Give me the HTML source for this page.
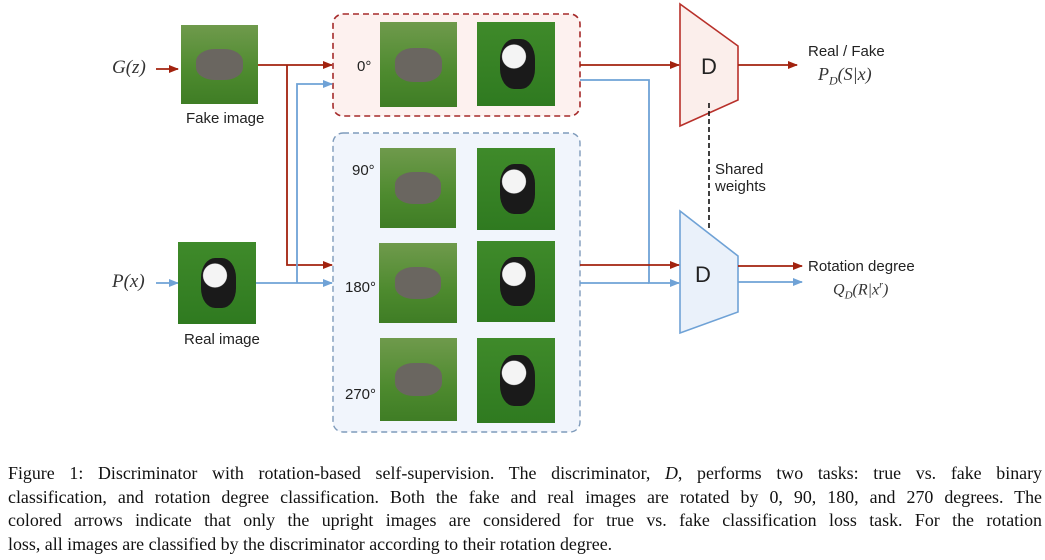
<!DOCTYPE html>
<html><head><style>
body{margin:0;width:1045px;height:560px;background:#fff;position:relative;overflow:hidden;font-family:"Liberation Sans",sans-serif}
.im{position:absolute;background:linear-gradient(180deg,#6f9a4c,#4d8a2e 60%,#3f7d25)}
.im.r{background:linear-gradient(180deg,#3f8a2a,#2f7a20)}
.im::after{content:"";position:absolute;left:20%;top:30%;width:60%;height:40%;border-radius:40%;background:#6a6660}
.im.r::after{left:30%;top:20%;width:45%;height:60%;background:radial-gradient(circle at 40% 35%,#f4f4f4 30%,#1a1a1a 32%)}
.t{position:absolute;font-size:15px;color:#222}
.m{position:absolute;font-family:"Liberation Serif",serif;font-style:italic;font-size:19px;color:#333}
.cap{position:absolute;left:8px;top:462px;width:1034px;font-family:"Liberation Serif",serif;font-size:17.9px;line-height:23.5px;color:#111}
.cap div{text-align:justify;text-align-last:justify;white-space:nowrap}
.cap div.l{text-align-last:left}
</style></head><body>
<svg width="1045" height="450" style="position:absolute;left:0;top:0">
<defs>
<marker id="ar" markerWidth="10" markerHeight="8" refX="9" refY="4" orient="auto" markerUnits="userSpaceOnUse"><path d="M0,0L10,4L0,8z" fill="#a2220e"/></marker>
<marker id="ab" markerWidth="10" markerHeight="8" refX="9" refY="4" orient="auto" markerUnits="userSpaceOnUse"><path d="M0,0L10,4L0,8z" fill="#6fa2d6"/></marker>
</defs>
<rect x="333" y="14" width="247" height="102" rx="10" fill="#fdf1ef" stroke="#a52a2a" stroke-width="1.6" stroke-dasharray="6,4"/>
<rect x="333" y="133" width="247" height="299" rx="10" fill="#f1f5fc" stroke="#7f9bbb" stroke-width="1.4" stroke-dasharray="6,4"/>
<polygon points="680,4 738,46 738,100 680,126" fill="#fbeeeb" stroke="#b8302a" stroke-width="1.6"/>
<polygon points="680,211 738,256 738,312 680,333" fill="#eaf1fa" stroke="#6fa2d6" stroke-width="1.6"/>
<line x1="709" y1="103" x2="709" y2="230" stroke="#111" stroke-width="1.6" stroke-dasharray="5,3"/>
<g fill="none" stroke-width="1.8">
<path d="M156,69H178" stroke="#a2220e" marker-end="url(#ar)"/>
<path d="M156,283H178" stroke="#6fa2d6" marker-end="url(#ab)"/>
<path d="M258,65H332" stroke="#a2220e" marker-end="url(#ar)"/>
<path d="M287,65V265H332" stroke="#a2220e" marker-end="url(#ar)"/>
<path d="M256,283H332" stroke="#6fa2d6" marker-end="url(#ab)"/>
<path d="M297,283V84H332" stroke="#6fa2d6" marker-end="url(#ab)"/>
<path d="M580,65H679" stroke="#a2220e" marker-end="url(#ar)"/>
<path d="M580,80H649V283H679" stroke="#6fa2d6" marker-end="url(#ab)"/>
<path d="M580,265H679" stroke="#a2220e" marker-end="url(#ar)"/>
<path d="M580,283H649" stroke="#6fa2d6"/>
<path d="M738,65H797" stroke="#a2220e" marker-end="url(#ar)"/>
<path d="M738,266H802" stroke="#a2220e" marker-end="url(#ar)"/>
<path d="M738,282H802" stroke="#6fa2d6" marker-end="url(#ab)"/>
</g>
<text x="709" y="74" font-size="22" text-anchor="middle" fill="#222" font-family="Liberation Sans">D</text>
<text x="703" y="282" font-size="22" text-anchor="middle" fill="#222" font-family="Liberation Sans">D</text>
</svg>
<div class="im" style="left:181px;top:25px;width:77px;height:79px"></div>
<div class="im r" style="left:178px;top:242px;width:78px;height:82px"></div>
<div class="im" style="left:380px;top:22px;width:77px;height:85px"></div>
<div class="im r" style="left:477px;top:22px;width:78px;height:84px"></div>
<div class="im" style="left:380px;top:148px;width:76px;height:80px"></div>
<div class="im r" style="left:477px;top:148px;width:78px;height:82px"></div>
<div class="im" style="left:379px;top:243px;width:78px;height:80px"></div>
<div class="im r" style="left:477px;top:241px;width:78px;height:81px"></div>
<div class="im" style="left:380px;top:338px;width:77px;height:83px"></div>
<div class="im r" style="left:477px;top:338px;width:78px;height:85px"></div>
<div class="m" style="left:112px;top:57px">G(z)</div>
<div class="m" style="left:112px;top:271px">P(x)</div>
<div class="t" style="left:186px;top:110px">Fake image</div>
<div class="t" style="left:184px;top:331px">Real image</div>
<div class="t" style="left:357px;top:58px">0°</div>
<div class="t" style="left:352px;top:162px">90°</div>
<div class="t" style="left:345px;top:279px">180°</div>
<div class="t" style="left:345px;top:386px">270°</div>
<div class="t" style="left:808px;top:43px">Real / Fake</div>
<div class="m" style="left:818px;top:64px;font-size:18px">P<sub style="font-size:12px">D</sub>(S|x)</div>
<div class="t" style="left:715px;top:161px">Shared<br>weights</div>
<div class="t" style="left:808px;top:258px">Rotation degree</div>
<div class="m" style="left:833px;top:280px;font-size:16px">Q<sub style="font-size:11px">D</sub>(R|x<sup style="font-size:10px">r</sup>)</div>
<div class="cap">
<div>Figure 1: Discriminator with rotation-based self-supervision. The discriminator, <i>D</i>, performs two tasks: true vs. fake binary</div>
<div>classification, and rotation degree classification. Both the fake and real images are rotated by 0, 90, 180, and 270 degrees. The</div>
<div>colored arrows indicate that only the upright images are considered for true vs. fake classification loss task. For the rotation</div>
<div class="l">loss, all images are classified by the discriminator according to their rotation degree.</div>
</div>
</body></html>
